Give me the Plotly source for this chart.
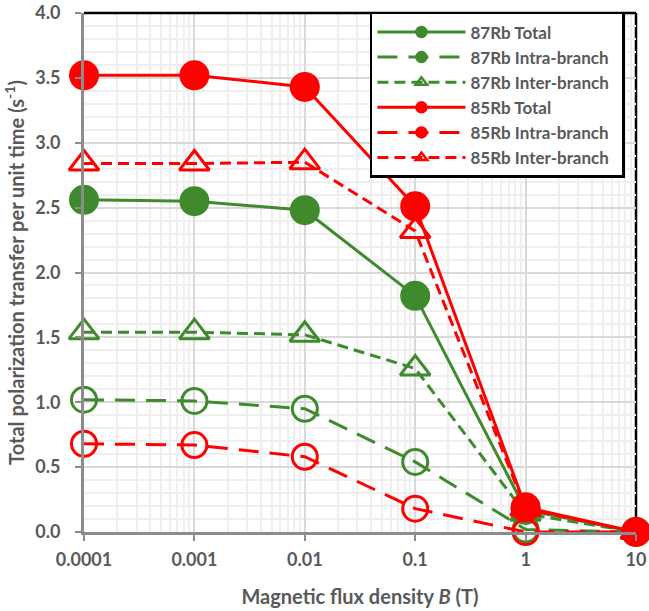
import plotly.graph_objects as go

B = [0.0001, 0.001, 0.01, 0.1, 1, 10]
rb87_total = [2.56, 2.55, 2.48, 1.82, 0.17, 0.0]
rb87_intra = [1.02, 1.01, 0.95, 0.54, 0.02, 0.0]
rb87_inter = [1.54, 1.54, 1.52, 1.26, 0.14, 0.0]
rb85_total = [3.52, 3.52, 3.43, 2.51, 0.19, 0.0]
rb85_intra = [0.68, 0.67, 0.58, 0.18, 0.0, 0.0]
rb85_inter = [2.84, 2.84, 2.85, 2.32, 0.18, 0.0]

x_ticks = [0.0001, 0.001, 0.01, 0.1, 1, 10]
x_ticklabels = ["0.0001", "0.001", "0.01", "0.1", "1", "10"]

GREEN = "#3f8a2c"
RED = "#ff0000"
GRAY_TXT = "#595959"
FONT = "Lato"

series = [
    ("87Rb Total", rb87_total, GREEN, "solid", "circle", 27),
    ("87Rb Intra-branch", rb87_intra, GREEN, "20px,11px", "circle-open", 25),
    ("87Rb Inter-branch", rb87_inter, GREEN, "11px,6px", "triangle-up-open", 26),
    ("85Rb Total", rb85_total, RED, "solid", "circle", 27),
    ("85Rb Intra-branch", rb85_intra, RED, "20px,11px", "circle-open", 25),
    ("85Rb Inter-branch", rb85_inter, RED, "11px,6px", "triangle-up-open", 26),
]

fig = go.Figure()
for name, y, col, dash, sym, size in series:
    fig.add_trace(go.Scatter(
        x=B, y=y, mode="lines+markers", name=name, showlegend=False,
        line=dict(color=col, width=3, dash=dash),
        marker=dict(symbol=sym, size=size, color=col,
                    line=dict(color=col, width=3)),
        cliponaxis=False,
    ))
# legend entries
for i, (name, y, col, dash, sym, size) in enumerate(series):
    fig.add_trace(go.Scatter(
        x=[None], y=[None], mode="lines+markers", name=name + "\u00a0\u00a0",
        showlegend=True,
        line=dict(color=col, width=3, dash=dash),
        marker=dict(symbol=sym.replace("-open", "") if "circle" in sym else sym,
                    size=10, color=col, line=dict(color=col, width=2.5)),
    ))

fig.add_shape(type="line", xref="paper", yref="paper", x0=0, x1=1, y0=1, y1=1,
              line=dict(color="black", width=2.5), layer="above")
fig.add_shape(type="line", xref="paper", yref="paper", x0=1, x1=1, y0=0, y1=1,
              line=dict(color="black", width=2.5), layer="between")

fig.update_layout(
    width=649, height=611,
    margin=dict(l=84, r=13, t=13, b=79, autoexpand=False),
    paper_bgcolor="white", plot_bgcolor="white",
    font=dict(family=FONT, color=GRAY_TXT, size=16),
    legend=dict(x=0.518, y=1.002, xanchor="left", yanchor="top",
                bgcolor="white", bordercolor="black", borderwidth=2.5,
                font=dict(family=FONT, size=17, color=GRAY_TXT, weight="bold"),
                itemwidth=88, tracegroupgap=0),
    xaxis=dict(
        type="log", range=[-4, 1], automargin=False,
        tickvals=x_ticks, ticktext=x_ticklabels, ticklabeloverflow="allow",
        tickfont=dict(size=18, weight="bold", color=GRAY_TXT),
        showline=True, linecolor="#8c8c8c", linewidth=3,
        ticks="outside", ticklen=6, tickcolor="#8c8c8c", tickwidth=1.5,
        ticklabelstandoff=3,
        showgrid=True, gridcolor="#d9d9d9", gridwidth=1.5,
        minor=dict(dtick="D1", showgrid=True, gridcolor="#efefef", gridwidth=1.5),
        zeroline=False,
        title=dict(text="Magnetic flux density <i>B</i> (T)",
                   font=dict(size=20, weight="bold", color=GRAY_TXT), standoff=22),
    ),
    yaxis=dict(
        range=[0, 4], dtick=0.5, tickformat=".1f", automargin=False,
        ticklabeloverflow="allow",
        tickfont=dict(size=18, weight="bold", color=GRAY_TXT),
        showline=True, linecolor="#8c8c8c", linewidth=3,
        ticks="outside", ticklen=6, tickcolor="#8c8c8c", tickwidth=1.5,
        ticklabelstandoff=11,
        showgrid=True, gridcolor="#d9d9d9", gridwidth=1.5,
        minor=dict(dtick=0.1, showgrid=True, gridcolor="#efefef", gridwidth=1.5),
        zeroline=False,
        title=dict(text="Total polarization transfer per unit time (s<sup>-1</sup>)",
                   font=dict(size=20, weight="bold", color=GRAY_TXT), standoff=6),
    ),
)

fig.write_html(
    "out.html",
    config={"displayModeBar": False},
    post_script="document.body.style.margin='0px';document.body.style.overflow='hidden';",
)
